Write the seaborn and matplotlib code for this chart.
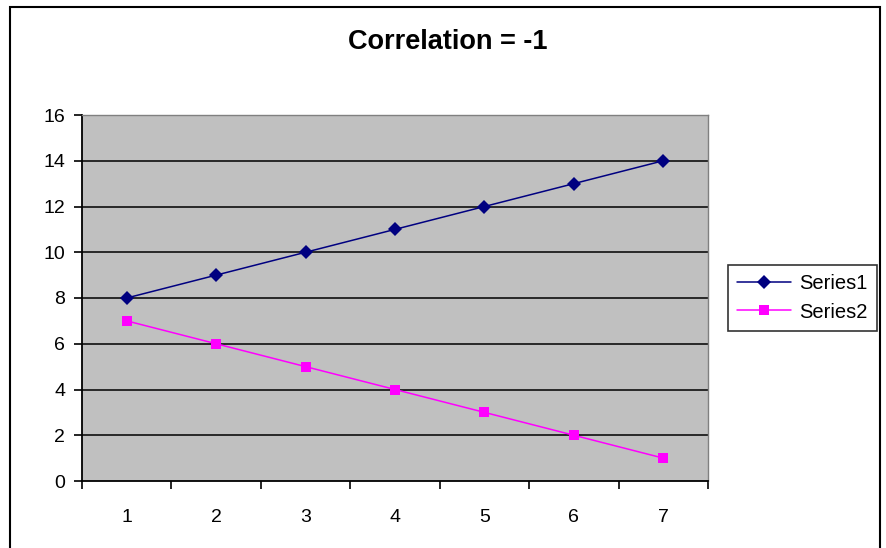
import matplotlib
matplotlib.use("Agg")
import matplotlib.pyplot as plt
import pandas as pd
import seaborn as sns
from matplotlib.patches import Rectangle

categories = [1, 2, 3, 4, 5, 6, 7]
series1 = [8, 9, 10, 11, 12, 13, 14]
series2 = [7, 6, 5, 4, 3, 2, 1]
y_ticks = [0, 2, 4, 6, 8, 10, 12, 14, 16]

sns.set_theme(style="white")
plt.rcParams["font.family"] = ["Liberation Sans", "DejaVu Sans"]
plt.rcParams["text.color"] = "black"
plt.rcParams["xtick.color"] = "black"
plt.rcParams["ytick.color"] = "black"

positions = list(range(len(categories)))
df = pd.DataFrame({
    "pos": positions * 2,
    "value": series1 + series2,
    "series": ["Series1"] * len(series1) + ["Series2"] * len(series2),
})

fig = plt.figure(figsize=(8.86, 5.48), dpi=100)
ax = fig.add_axes([82 / 886, 1 - 481 / 548, (708 - 82) / 886, (481 - 115) / 548])

sns.lineplot(
    data=df, x="pos", y="value", hue="series", style="series",
    markers={"Series1": "D", "Series2": "s"}, dashes=False,
    palette={"Series1": "#000080", "Series2": "#FF00FF"},
    markersize=7, linewidth=1.1, markeredgewidth=0, ax=ax, legend=True,
)

ax.set_facecolor("#C0C0C0")
ax.set_xlim(-0.5, len(categories) - 0.5)
ax.set_ylim(0, 16)
ax.set_yticks(y_ticks)
ax.set_yticklabels([str(t) for t in y_ticks], fontsize=14)
for t in y_ticks[1:-1]:
    ax.axhline(t, color="black", linewidth=1.1, zorder=1)

# category labels sit between the tick marks
ax.set_xticks([p - 0.5 for p in positions] + [len(categories) - 0.5])
ax.set_xticklabels([])
ax.set_xticks(positions, minor=True)
ax.set_xticklabels([str(c) for c in categories], minor=True, fontsize=14)
ax.tick_params(axis="x", which="major", length=6, width=1.2, color="black", direction="out", bottom=True)
ax.tick_params(axis="x", which="minor", length=0, pad=20)
ax.tick_params(axis="y", length=6, width=1.2, color="black", direction="out", left=True, pad=6)
ax.set_xlabel("")
ax.set_ylabel("")

for side in ("left", "bottom"):
    ax.spines[side].set_color("black")
    ax.spines[side].set_linewidth(1.3)
for side in ("top", "right"):
    ax.spines[side].set_color("#808080")
    ax.spines[side].set_linewidth(1.0)

handles, labels = ax.get_legend_handles_labels()
leg = ax.legend(
    handles, labels, loc="center left", bbox_to_anchor=(728 / 886, 1 - 298 / 548),
    bbox_transform=fig.transFigure, fontsize=14.5, frameon=True, fancybox=False,
    handlelength=2.7, handletextpad=0.4, borderpad=0.45, labelspacing=0.45,
    borderaxespad=0,
)
leg.get_frame().set_edgecolor("black")
leg.get_frame().set_linewidth(1.2)

fig.text(448 / 886, 1 - 42 / 548, "Correlation = -1", ha="center", va="center",
         fontsize=19.5, fontweight="bold")

# chart border
fig.patches.append(Rectangle((10 / 886, -0.05), (880 - 10) / 886, 1 - 7 / 548 + 0.05,
                             transform=fig.transFigure, fill=False,
                             edgecolor="black", linewidth=1.5))

fig.savefig("out.png", dpi=100)
